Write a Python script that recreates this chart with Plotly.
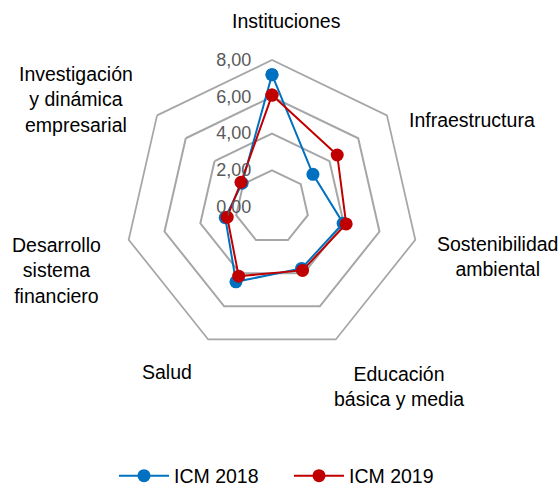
import plotly.graph_objects as go

# categories in clockwise order starting at the top
categories = [
    "Instituciones",
    "Infraestructura",
    "Sostenibilidad<br>ambiental",
    "Educación<br>básica y media",
    "Salud",
    "Desarrollo<br>sistema<br>financiero",
    "Investigación<br>y dinámica<br>empresarial",
]
icm_2018 = [7.2, 2.85, 3.97, 3.71, 4.52, 2.61, 2.08]
icm_2019 = [6.09, 4.54, 4.14, 3.83, 4.18, 2.5, 2.16]
radial_ticks = [0, 2, 4, 6, 8]

FONT = "Liberation Sans, Arial, sans-serif"
GRID = "#A6A6A6"
W, H = 560, 486

# where the category labels sit (pixel centres)
label_pos = {
    "Instituciones": (286, 21),
    "Infraestructura": (472, 120),
    "Sostenibilidad<br>ambiental": (497, 256),
    "Educación<br>básica y media": (399, 386),
    "Salud": (167, 372),
    "Desarrollo<br>sistema<br>financiero": (56, 270),
    "Investigación<br>y dinámica<br>empresarial": (76, 100),
}

fig = go.Figure()

fig.add_trace(go.Scatterpolar(
    r=icm_2018 + icm_2018[:1], theta=categories + categories[:1],
    mode="lines+markers", name="ICM 2018",
    line=dict(color="#0070C0", width=2),
    marker=dict(size=13, color="#0070C0"),
))
fig.add_trace(go.Scatterpolar(
    r=icm_2019 + icm_2019[:1], theta=categories + categories[:1],
    mode="lines+markers", name="ICM 2019",
    line=dict(color="#C00000", width=2),
    marker=dict(size=13, color="#C00000"),
))

cx, cy, rad = 272, 207, 147
fig.update_layout(
    width=W, height=H,
    margin=dict(l=0, r=0, t=0, b=0, autoexpand=False),
    paper_bgcolor="white",
    separators=",.",
    font=dict(family=FONT, size=19.5, color="black"),
    polar=dict(
        domain=dict(x=[(cx - rad) / W, (cx + rad) / W],
                    y=[(H - cy - rad) / H, (H - cy + rad) / H]),
        gridshape="linear",
        bgcolor="white",
        angularaxis=dict(
            direction="clockwise", rotation=90,
            showgrid=False, showticklabels=False, ticks="",
            showline=True, linecolor=GRID, linewidth=1.75,
        ),
        radialaxis=dict(
            range=[0, 8], tickvals=radial_ticks, tickformat=".2f",
            angle=90, side="counterclockwise", tickangle=90,
            ticks="outside", ticklen=14, tickcolor="rgba(0,0,0,0)",
            showline=False, gridcolor=GRID, gridwidth=1.75,
            tickfont=dict(family=FONT, size=18, color="#595959"),
        ),
    ),
    showlegend=True,
    legend=dict(
        orientation="h", x=114 / W, xanchor="left", y=10 / H, yanchor="middle",
        font=dict(family=FONT, size=19.5, color="black"),
        itemwidth=50, entrywidth=110,
    ),
)

for name in categories:
    px, py = label_pos[name]
    fig.add_annotation(
        x=px / W, y=1 - py / H, xref="paper", yref="paper",
        text=name, showarrow=False, xanchor="center", yanchor="middle",
        align="center", font=dict(family=FONT, size=19.5, color="black"),
    )

fig.write_html("out.html", config={"displayModeBar": False},
               post_script="document.body.style.margin='0';")
